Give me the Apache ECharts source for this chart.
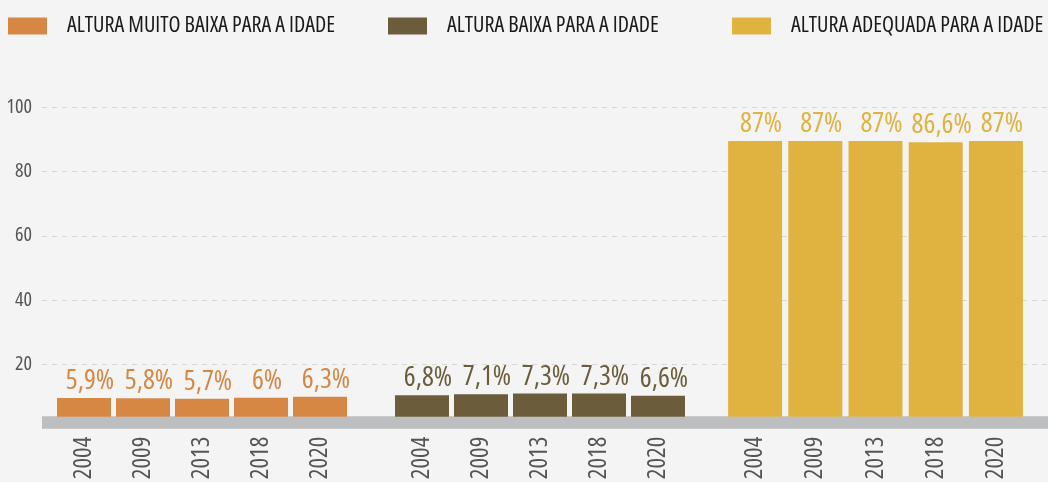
<!DOCTYPE html>
<html>
<head>
<meta charset="utf-8">
<script src="https://cdn.jsdelivr.net/npm/echarts@6/dist/echarts.min.js"></script>
<style>
html,body{margin:0;padding:0;background:#f4f4f4;}
#chart{width:1048px;height:482px;}
</style>
</head>
<body>
<div id="chart"></div>
<script>
var years = ['2004', '2009', '2013', '2018', '2020'];
var seriesNames = ['ALTURA MUITO BAIXA PARA A IDADE', 'ALTURA BAIXA PARA A IDADE', 'ALTURA ADEQUADA PARA A IDADE'];
var muitoBaixa = [5.9, 5.8, 5.7, 6, 6.3];
var baixa = [6.8, 7.1, 7.3, 7.3, 6.6];
var adequada = [87, 87, 87, 86.6, 87];
var yTicks = [0, 20, 40, 60, 80, 100];

var colors = ['#d68744', '#6b5d3b', '#e0b341'];
var FONT = "'Open Sans', sans-serif";
var STRETCH = 'condensed';
var groups = [muitoBaixa, baixa, adequada];

function pct(v) { return String(v).replace('.', ',') + '%'; }

var chart = echarts.init(document.getElementById('chart'));

var barGrids = [
  { left: 54.5, width: 295 },
  { left: 392.5, width: 295 },
  { left: 725, width: 301 }
];

var grid = [{ left: 42, right: 0, top: 107.3, bottom: 53.5, outerBoundsMode: 'none', containLabel: false }];
barGrids.forEach(function (g) {
  grid.push({ left: g.left, width: g.width, top: 99.8, bottom: 65.3, outerBoundsMode: 'none', containLabel: false });
});

var xAxis = [{
  gridIndex: 0, type: 'category', data: [''],
  axisLine: { show: true, lineStyle: { color: '#bdbec0', width: 12.5, cap: 'butt' } },
  offset: -6.25,
  axisTick: { show: false }, axisLabel: { show: false }
}];
var yAxis = [{
  gridIndex: 0, type: 'value', min: yTicks[0], max: yTicks[yTicks.length - 1], interval: 20,
  axisLine: { show: false }, axisTick: { show: false },
  axisLabel: {
    margin: 10, color: '#555', fontSize: 20, fontFamily: FONT, fontStyle: STRETCH,
    formatter: function (v) { return v === 0 ? '' : v; }
  },
  splitLine: { show: true, showMinLine: false, lineStyle: { color: '#d6d6d6', type: [5, 5], width: 1 } }
}];
var series = [];
var legends = [];
var legendLefts = [8, 388, 732];

groups.forEach(function (vals, i) {
  xAxis.push({
    gridIndex: i + 1, type: 'category', data: years,
    axisLine: { show: false }, axisTick: { show: false },
    axisLabel: { rotate: 90, margin: 20, color: '#555', fontSize: 25, fontFamily: FONT, fontStyle: STRETCH }
  });
  yAxis.push({ gridIndex: i + 1, type: 'value', min: 0, max: 100, show: false });
  series.push({
    name: seriesNames[i], type: 'bar', xAxisIndex: i + 1, yAxisIndex: i + 1,
    data: vals, barWidth: 54,
    itemStyle: { color: colors[i] },
    label: {
      show: true, position: 'top', distance: 3, offset: [6, 0],
      color: colors[i], fontSize: 28, fontFamily: FONT, fontStyle: STRETCH, fontWeight: 500,
      formatter: function (p) { return pct(p.value); }
    }
  });
  legends.push({
    data: [seriesNames[i]], left: legendLefts[i], top: 15, padding: 0,
    icon: 'rect', itemWidth: 39, itemHeight: 17,
    textStyle: { color: '#1a1a1a', fontSize: 22, lineHeight: 17, fontFamily: FONT, fontStyle: STRETCH, padding: [0, 0, 0, 15] }
  });
});

chart.setOption({
  backgroundColor: '#f4f4f4',
  animation: false,
  legend: legends,
  grid: grid,
  xAxis: xAxis,
  yAxis: yAxis,
  series: series
});
</script>
</body>
</html>
